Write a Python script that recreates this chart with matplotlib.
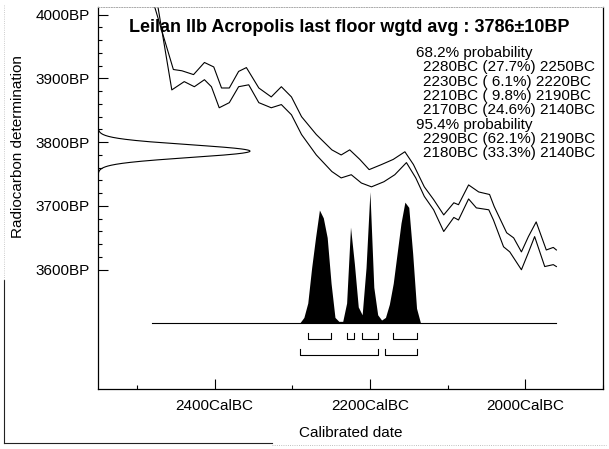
import numpy as np
import matplotlib
matplotlib.use('Agg')
import matplotlib.pyplot as plt
from matplotlib.lines import Line2D
from matplotlib.ticker import FixedLocator

plt.rcParams['font.family'] = ['Liberation Sans', 'DejaVu Sans']

# ---------------------------------------------------------------- data

title = 'Leilan IIb Acropolis last floor wgtd avg : 3786\u00b110BP'
c14_age, c14_err = 3786, 10

# calibration curve envelope (years BC, BP)
curve_hi_bc = [2480, 2477, 2453, 2442, 2427, 2413, 2401, 2391, 2381, 2369, 2359, 2343, 2327,
               2314, 2301, 2288, 2269, 2249, 2237, 2226, 2213, 2201, 2185, 2170, 2155, 2144,
               2130, 2118, 2105, 2092, 2086, 2073, 2060, 2046, 2040, 2024, 2015, 2005, 1996,
               1986, 1973, 1964, 1960]
curve_hi_bp = [4028, 4012, 3914, 3912, 3906, 3925, 3918, 3885, 3885, 3911, 3917, 3885, 3871,
               3887, 3871, 3840, 3812, 3788, 3780, 3788, 3773, 3757, 3765, 3773, 3785, 3765,
               3730, 3710, 3686, 3705, 3702, 3733, 3722, 3718, 3699, 3658, 3650, 3628, 3652,
               3675, 3631, 3635, 3631]
curve_lo_bc = [2475, 2455, 2439, 2426, 2413, 2404, 2394, 2381, 2369, 2356, 2343, 2327, 2314,
               2301, 2288, 2269, 2249, 2237, 2224, 2211, 2198, 2182, 2168, 2153, 2141, 2130,
               2118, 2105, 2092, 2086, 2073, 2063, 2047, 2041, 2028, 2020, 2005, 1996, 1988,
               1975, 1964, 1960]
curve_lo_bp = [4028, 3882, 3895, 3887, 3898, 3887, 3854, 3862, 3887, 3890, 3862, 3854, 3859,
               3843, 3812, 3780, 3754, 3744, 3749, 3736, 3730, 3738, 3749, 3768, 3744, 3715,
               3694, 3660, 3682, 3678, 3711, 3697, 3694, 3678, 3636, 3628, 3600, 3627, 3652,
               3605, 3608, 3605]

# calibrated probability (relative)
cal_bc = [2295, 2290, 2285, 2280, 2275, 2270, 2265, 2260, 2255, 2250, 2245, 2240, 2235,
          2230, 2225, 2220, 2215, 2210, 2205, 2200, 2195, 2190, 2185, 2180, 2175, 2170,
          2165, 2160, 2155, 2150, 2145, 2140, 2135, 2130]
cal_p = [0.0, 0.0, 0.04, 0.15, 0.42, 0.65, 0.86, 0.80, 0.65, 0.30, 0.04, 0.01, 0.01,
         0.15, 0.73, 0.45, 0.12, 0.06, 0.42, 1.0, 0.27, 0.06, 0.02, 0.04, 0.14, 0.30,
         0.53, 0.76, 0.92, 0.88, 0.53, 0.11, 0.0, 0.0]
cal_span = (2480, 1960)

range68 = [(2280, 27.7, 2250), (2230, 6.1, 2220), (2210, 9.8, 2190), (2170, 24.6, 2140)]
range95 = [(2290, 62.1, 2190), (2180, 33.3, 2140)]

# ---------------------------------------------------------------- figure

W, H = 609, 449
fig = plt.figure(figsize=(W / 100, H / 100), dpi=100)
ax = fig.add_axes([98 / W, 1 - 389 / H, (603 - 98) / W, (389 - 7) / H])
ax.set_xlim(2550, 1900)
ax.set_ylim(3413, 4012)

px_bp = (4012 - 3413) / 382.0   # BP per pixel
px_yr = 650 / 505.0             # years per pixel

lw = 0.8
ax.plot(curve_hi_bc, curve_hi_bp, color='black', lw=lw)
ax.plot(curve_lo_bc, curve_lo_bp, color='black', lw=lw)

# measured age on the y axis
yy = np.linspace(c14_age - 45, c14_age + 45, 300)
xx = 2550 - 152 * px_yr * np.exp(-0.5 * ((yy - c14_age) / c14_err) ** 2)
ax.plot(xx, yy, color='black', lw=lw, clip_on=True)

# calibrated distribution
base = 4000 - (323 - 15) * px_bp
peak_h = 131 * px_bp
ax.plot(cal_span, [base, base], color='black', lw=lw)
ax.fill_between(cal_bc, base, base + np.array(cal_p) * peak_h, color='black', lw=0)

def brackets(ranges, y_bar, y_top):
    for a, p, b in ranges:
        ax.plot([a, a, b, b], [y_top, y_bar, y_bar, y_top], color='black', lw=0.8)

brackets(range68, 4000 - (339 - 15) * px_bp, 4000 - (333 - 15) * px_bp)
brackets(range95, 4000 - (355 - 15) * px_bp, 4000 - (349 - 15) * px_bp)

# ticks
ax.yaxis.set_major_locator(FixedLocator([3600, 3700, 3800, 3900, 4000]))
ax.yaxis.set_minor_locator(FixedLocator([v for v in range(3620, 4000, 20) if v % 100]))
ax.set_yticklabels(['%dBP' % v for v in [3600, 3700, 3800, 3900, 4000]])
ax.xaxis.set_major_locator(FixedLocator([2400, 2200, 2000]))
ax.xaxis.set_minor_locator(FixedLocator([2500, 2300, 2100, 1900]))
ax.set_xticklabels(['%dCalBC' % v for v in [2400, 2200, 2000]])
ax.tick_params(which='both', direction='in', width=0.8, labelsize=11, colors='black')
ax.tick_params(which='major', length=7)
ax.tick_params(which='minor', length=3)
ax.tick_params(axis='x', pad=7)
ax.tick_params(axis='y', pad=6)

for s in ['left', 'bottom', 'right']:
    ax.spines[s].set_linewidth(0.9)
ax.spines['top'].set_color('#aaaaaa')
ax.spines['top'].set_linestyle(':')
ax.spines['top'].set_linewidth(0.7)

# texts
fig.text(349 / W, 1 - 28 / H, title, ha='center', va='center', fontsize=13, fontweight='bold')
fig.text(351 / W, 1 - 433 / H, 'Calibrated date', ha='center', va='center', fontsize=11)
fig.text(18 / W, 1 - 147 / H, 'Radiocarbon determination', ha='center', va='center',
         rotation=90, fontsize=11)

lines = ['68.2% probability']
lines += ['  %dBC (%4.1f%%) %dBC' % r for r in range68]
lines += ['95.4% probability']
lines += ['  %dBC (%4.1f%%) %dBC' % r for r in range95]
for i, t in enumerate(lines):
    indent = 0 if t.endswith('probability') else 7
    fig.text((416 + indent) / W, 1 - (53 + 14.3 * i) / H, t.strip(), ha='left', va='center',
             fontsize=11)

# outer frame
fig.add_artist(Line2D([4 / W, 4 / W], [1 - 280 / H, 1 - 443 / H], color='#222222', lw=0.8))
fig.add_artist(Line2D([4 / W, 4 / W], [1 - 5 / H, 1 - 280 / H], color='#bbbbbb', lw=0.6, ls=':'))
fig.add_artist(Line2D([4 / W, 272 / W], [1 - 443 / H, 1 - 443 / H], color='#222222', lw=0.8))
fig.add_artist(Line2D([272 / W, 606 / W], [1 - 445 / H, 1 - 445 / H], color='#aaaaaa', lw=0.6, ls=':'))

fig.savefig('out.png', dpi=100)
